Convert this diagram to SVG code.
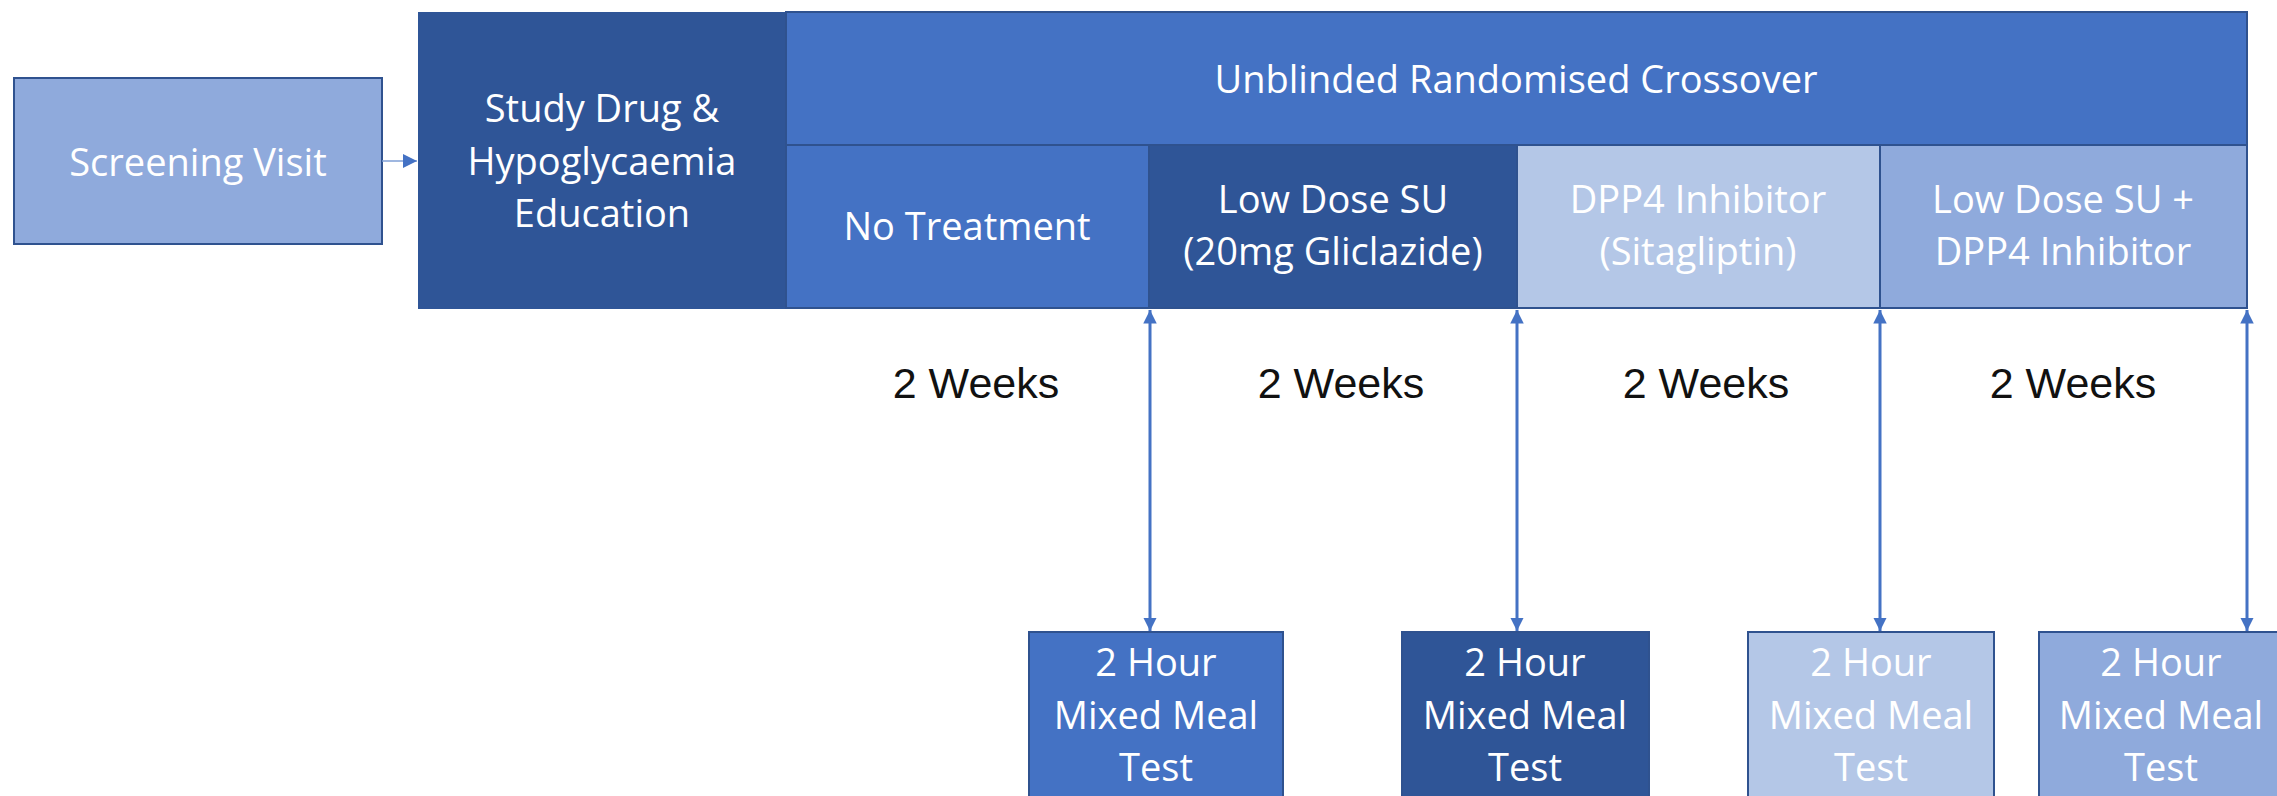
<svg xmlns="http://www.w3.org/2000/svg" width="2277" height="796" viewBox="0 0 2277 796">
<defs>
<style>
.t{font-family:"Open Sans","Noto Sans",sans-serif;font-size:38px;fill:#ffffff;text-anchor:middle}
.w{font-family:"Liberation Sans",Arial,sans-serif;font-size:43px;fill:#111111;text-anchor:middle}
.b{stroke:#2f528f;stroke-width:2}
.c1{fill:#4472c4}.c2{fill:#2f5597}.c3{fill:#b4c7e7}.c4{fill:#8faadc}
.conn{stroke:#4472c4;stroke-width:3;fill:none}
</style>
<marker id="ah" viewBox="0 0 10 10" refX="10" refY="5" markerWidth="4.5" markerHeight="4.5" orient="auto-start-reverse">
<path d="M0,0 L10,5 L0,10 z" fill="#4472c4"/>
</marker>
<marker id="ah2" viewBox="0 0 10 10" refX="10" refY="5" markerWidth="14" markerHeight="14" markerUnits="userSpaceOnUse" orient="auto">
<path d="M0,0 L10,5 L0,10 z" fill="#4472c4"/>
</marker>
</defs>
<rect width="2277" height="796" fill="#ffffff"/>

<g id="screening">
<rect class="b c4" x="14" y="78" width="368" height="166"/>
<text class="t" x="198" y="176">Screening Visit</text>
</g>

<g id="study-drug">
<rect class="c2" x="418" y="12" width="368" height="297"/>
<text class="t" x="602" y="122">Study Drug &amp;</text>
<text class="t" x="602" y="175">Hypoglycaemia</text>
<text class="t" x="602" y="227">Education</text>
</g>

<g id="header">
<rect class="b c1" x="786" y="12" width="1461" height="133"/>
<text class="t" x="1516" y="93">Unblinded Randomised Crossover</text>
</g>

<g id="no-treatment">
<rect class="b c1" x="786" y="145" width="363" height="163"/>
<text class="t" x="967" y="240">No Treatment</text>
</g>

<g id="low-dose-su">
<rect class="b c2" x="1149" y="145" width="368" height="163"/>
<text class="t" x="1333" y="213">Low Dose SU</text>
<text class="t" x="1333" y="265">(20mg Gliclazide)</text>
</g>

<g id="dpp4">
<rect class="b c3" x="1517" y="145" width="363" height="163"/>
<text class="t" x="1698" y="213">DPP4 Inhibitor</text>
<text class="t" x="1698" y="265">(Sitagliptin)</text>
</g>

<g id="low-dose-su-dpp4">
<rect class="b c4" x="1880" y="145" width="367" height="163"/>
<text class="t" x="2063" y="213">Low Dose SU +</text>
<text class="t" x="2063" y="265">DPP4 Inhibitor</text>
</g>

<g id="weeks">
<text class="w" x="976" y="398">2 Weeks</text>
<text class="w" x="1341" y="398">2 Weeks</text>
<text class="w" x="1706" y="398">2 Weeks</text>
<text class="w" x="2073" y="398">2 Weeks</text>
</g>

<g id="mmt1">
<rect class="b c1" x="1029" y="632" width="254" height="180"/>
<text class="t" x="1156" y="676">2 Hour</text>
<text class="t" x="1156" y="729">Mixed Meal</text>
<text class="t" x="1156" y="781">Test</text>
</g>

<g id="mmt2">
<rect class="b c2" x="1402" y="632" width="247" height="180"/>
<text class="t" x="1525" y="676">2 Hour</text>
<text class="t" x="1525" y="729">Mixed Meal</text>
<text class="t" x="1525" y="781">Test</text>
</g>

<g id="mmt3">
<rect class="b c3" x="1748" y="632" width="246" height="180"/>
<text class="t" x="1871" y="676">2 Hour</text>
<text class="t" x="1871" y="729">Mixed Meal</text>
<text class="t" x="1871" y="781">Test</text>
</g>

<g id="mmt4">
<rect class="b c4" x="2039" y="632" width="246" height="180"/>
<text class="t" x="2161" y="676">2 Hour</text>
<text class="t" x="2161" y="729">Mixed Meal</text>
<text class="t" x="2161" y="781">Test</text>
</g>

<g id="connectors">
<line x1="382" y1="161" x2="417" y2="161" stroke="#7f9fd6" stroke-width="1.5" marker-end="url(#ah2)"/>
<line class="conn" x1="1150" y1="310" x2="1150" y2="631" marker-start="url(#ah)" marker-end="url(#ah)"/>
<line class="conn" x1="1517" y1="310" x2="1517" y2="631" marker-start="url(#ah)" marker-end="url(#ah)"/>
<line class="conn" x1="1880" y1="310" x2="1880" y2="631" marker-start="url(#ah)" marker-end="url(#ah)"/>
<line class="conn" x1="2247" y1="310" x2="2247" y2="631" marker-start="url(#ah)" marker-end="url(#ah)"/>
</g>
</svg>
